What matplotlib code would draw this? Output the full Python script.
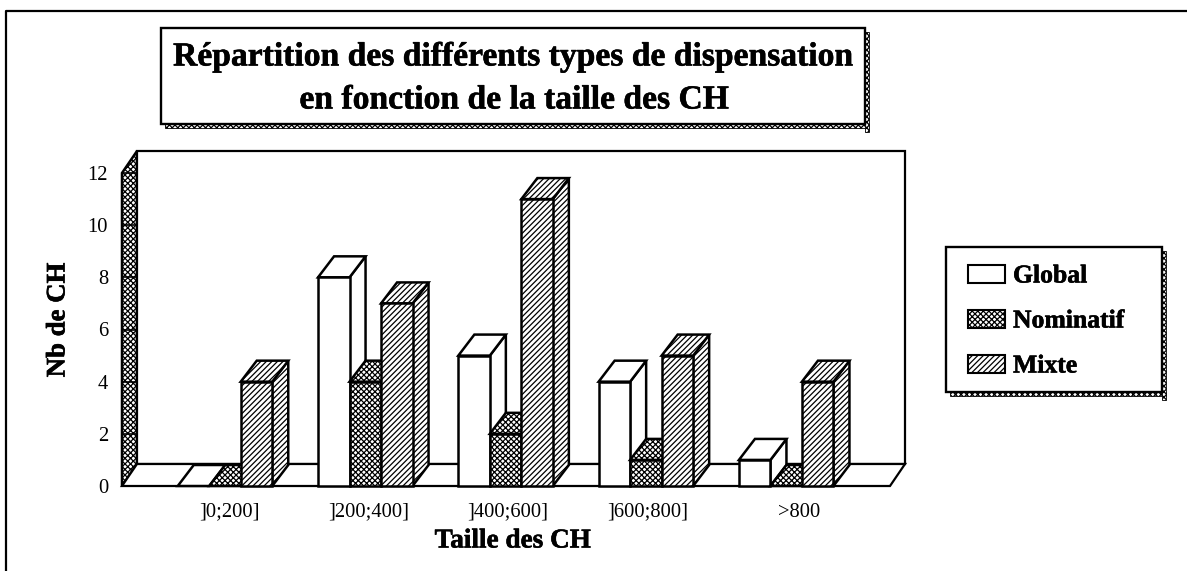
import matplotlib
matplotlib.use("Agg")
import matplotlib.pyplot as plt
import matplotlib.patheffects as pe
from matplotlib.patches import Polygon, Rectangle
from matplotlib.transforms import ScaledTranslation

plt.rcParams['font.family'] = ['Liberation Serif', 'DejaVu Serif']
plt.rcParams['hatch.linewidth'] = 0.9

categories = [']0;200]', ']200;400]', ']400;600]', ']600;800]', '>800']
global_values = [0, 8, 5, 4, 1]
nominatif_values = [0, 4, 2, 1, 0]
mixte_values = [4, 7, 11, 5, 4]
series_names = ['Global', 'Nominatif', 'Mixte']
y_ticks = [0, 2, 4, 6, 8, 10, 12]

W, H = 1187, 571
fig = plt.figure(figsize=(W / 100, H / 100), dpi=100, facecolor='white')
heavy = [pe.withStroke(linewidth=0.4, foreground='black')]
DOTS = 'xxxxxx'
LINES = '//////'


def fx(px):
    return px / W


def fy(py):
    return 1 - py / H


overlay = fig.add_axes([0, 0, 1, 1], zorder=0)
overlay.set_xlim(0, W)
overlay.set_ylim(H, 0)
overlay.axis('off')
overlay.plot([1187, 6, 6], [11, 11, 571], color='black', lw=1.6, clip_on=False)


def shadow_box(x0, y0, x1, y1, s=4):
    overlay.add_patch(Rectangle((x0 + s, y1), x1 - x0, s, fc='white', ec='black', hatch=DOTS, lw=0.6))
    overlay.add_patch(Rectangle((x1, y0 + s), s, y1 - y0 + s, fc='white', ec='black', hatch=DOTS, lw=0.6))
    overlay.add_patch(Rectangle((x0, y0), x1 - x0, y1 - y0, fc='white', ec='black', lw=1.7))


shadow_box(161, 28, 865, 124)
overlay.text(513, 57, 'Répartition des différents types de dispensation', ha='center', va='center',
             fontsize=24.2, fontweight='bold', path_effects=heavy)
overlay.text(514, 100, 'en fonction de la taille des CH', ha='center', va='center',
             fontsize=24.2, fontweight='bold', path_effects=heavy)

shadow_box(946, 247, 1162, 392)
legend_rows = [(274, None), (319, DOTS), (364, LINES)]
for name, (yy, hatch) in zip(series_names, legend_rows):
    overlay.add_patch(Rectangle((968, yy - 9), 37, 18, fc='white', ec='black', lw=1.5, hatch=hatch))
    overlay.text(1013, yy + 2, name, ha='left', va='center', fontsize=18.5, fontweight='bold',
                 path_effects=heavy)

# plot axes: front plane of the 3D chart
L, R, B, T = 122, 890, 486, 173
ax = fig.add_axes([fx(L), fy(B), fx(R - L), fy(T) - fy(B)], zorder=1)
ax.patch.set_alpha(0)
px_per_x = 140.3
x_center0 = 225
ax.set_xlim((L - x_center0) / px_per_x, (R - x_center0) / px_per_x)
ax.set_ylim(0, 12)
for s in ax.spines.values():
    s.set_visible(False)
xs = list(range(len(categories)))
ax.set_xticks(xs, categories, fontsize=14.8)
ax.set_yticks(y_ticks, [str(v) for v in y_ticks], fontsize=14.8)
ax.tick_params(axis='both', length=0)
ax.tick_params(axis='x', pad=12)
ax.tick_params(axis='y', pad=10)
# the reference's category labels sit slightly to the right of their groups
label_shift_px = [4, 3, 2, 2, 13]
for lab, dx in zip(ax.get_xticklabels(), label_shift_px):
    lab.set_transform(lab.get_transform() + ScaledTranslation(dx / 100, 0, fig.dpi_scale_trans))

ax.set_xlabel('Taille des CH', fontsize=19.6, fontweight='bold', path_effects=heavy)
ax.xaxis.set_label_coords((513 - L) / (R - L), -(541 - B) / (B - T), transform=ax.transAxes)
ax.xaxis.label.set_va('center')
ax.set_ylabel('Nb de CH', fontsize=19.3, fontweight='bold', path_effects=heavy)
ax.yaxis.set_label_coords((58 - L) / (R - L), (B - 320) / (B - T), transform=ax.transAxes)
ax.yaxis.label.set_va('center')

unit_x = 1 / px_per_x
unit_y = 12 / (B - T)
wall_dx, wall_dy = 15 * unit_x, 22 * unit_y
bar_dx, bar_dy = 16 * unit_x, 21 * unit_y
bar_w = 31.5 * unit_x
x0, x1 = ax.get_xlim()

LW = 1.8
# walls and floor
ax.add_patch(Polygon([(x0, 0), (x0 + wall_dx, wall_dy), (x0 + wall_dx, 12 + wall_dy), (x0, 12)],
                     closed=True, fc='white', ec='black', lw=LW, hatch=DOTS, clip_on=False, zorder=1))
ax.add_patch(Polygon([(x0 + wall_dx, wall_dy), (x1 + wall_dx, wall_dy), (x1 + wall_dx, 12 + wall_dy),
                      (x0 + wall_dx, 12 + wall_dy)],
                     closed=True, fc='white', ec='black', lw=LW - 0.2, clip_on=False, zorder=1))
ax.add_patch(Polygon([(x0, 0), (x1, 0), (x1 + wall_dx, wall_dy), (x0 + wall_dx, wall_dy)],
                     closed=True, fc='white', ec='black', lw=LW - 0.2, clip_on=False, zorder=1))
for v in y_ticks:
    ax.plot([x0, x0 + wall_dx], [v, v], color='black', lw=1.2, clip_on=False, zorder=2)

series = [(global_values, None, -1), (nominatif_values, DOTS, 0), (mixte_values, LINES, 1)]
z = 3
for i, xc in enumerate(xs):
    for values, hatch, off in series:
        h = values[i]
        left = xc + (off - 0.5) * bar_w
        right = left + bar_w
        kw = dict(closed=True, fc='white', ec='black', lw=LW, hatch=hatch, clip_on=False, zorder=z)
        if h > 0:
            ax.add_patch(Polygon([(right, 0), (right + bar_dx, bar_dy), (right + bar_dx, h + bar_dy), (right, h)], **kw))
        ax.add_patch(Polygon([(left, h), (right, h), (right + bar_dx, h + bar_dy), (left + bar_dx, h + bar_dy)], **kw))
        if h > 0:
            ax.bar(left, h, width=bar_w, align='edge', color='white', edgecolor='black', lw=LW, hatch=hatch,
                   clip_on=False, zorder=z)
        z += 1

fig.savefig('out.png', dpi=100)
